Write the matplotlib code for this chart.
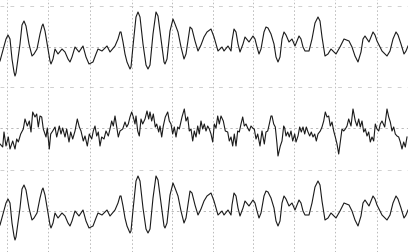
import numpy as np
import matplotlib
matplotlib.use('Agg')
import matplotlib.pyplot as plt

# 上下两道波形 (幅值, 向上为正)
t_slow = [0, 6, 8, 10, 12, 14, 15, 16, 20, 22, 24, 26, 29, 32, 34, 37, 40, 42, 43, 45,
          48, 50, 51, 53, 55, 58, 62, 65, 68, 70, 72, 75, 79, 83, 86, 89, 93, 96, 98, 102,
          107, 110, 115, 118, 120, 121, 123, 125, 127, 130, 131, 133, 136, 138, 140, 143, 146, 148, 150, 153,
          156, 158, 161, 164, 165, 167, 170, 173, 175, 178, 181, 184, 186, 190, 192, 195, 198, 201, 204, 207,
          211, 214, 218, 222, 224, 228, 231, 232, 234, 236, 238, 240, 243, 245, 249, 253, 255, 257, 259, 261,
          264, 266, 268, 271, 274, 276, 278, 280, 282, 284, 286, 289, 292, 295, 297, 299, 301, 303, 305, 309,
          312, 315, 318, 320, 322, 325, 328, 331, 336, 340, 344, 349, 352, 355, 358, 361, 363, 365, 369, 371,
          373, 375, 377, 382, 387, 390, 393, 396, 398, 401, 404, 406, 408]
v_slow = [-14, 8, 12, 8, -12, -25, -29, -26, 3, 22, 26, 21, 3, -9, -7, -2, 13, 21, 23, 16,
          -2, -14, -17, -12, -2, -7, -2, -5, -12, -15, -10, 0, -5, 1, -10, -17, -15, -7, -2, -4,
          1, -5, 1, 8, 15, 15, 5, -7, -15, -22, -20, 1, 30, 35, 30, 3, -18, -22, -18, 13,
          35, 31, 8, -15, -17, -12, 16, 28, 23, 15, 0, -12, -7, 20, 18, 6, -4, 2, 10, 15,
          18, 10, -4, 0, -4, 1, -4, 6, 18, 15, 3, -5, 3, 10, 5, 11, 8, 0, -7, -2,
          15, 20, 19, 13, 3, -10, -15, -10, 8, 15, 12, 5, 8, 1, 6, 11, 8, 0, -4, -4,
          8, 24, 30, 26, 10, -9, -7, -2, -7, 0, 8, 6, 0, -9, -15, -5, 8, 11, 5, 10,
          15, 12, 6, -4, -9, -4, 8, 15, 12, 3, -7, -4, 1]

# 中间一道快波
t_fast = [0, 2.7, 4, 6, 8.3, 10, 12.7, 15, 16.7, 18.3, 20.7, 23.3, 25, 27.3, 29.3, 31, 32.7, 35, 36.7, 38.3,
          40, 41.7, 43.3, 46, 47.3, 49.3, 50.7, 52.7, 55, 56.7, 59.3, 61, 62.7, 65, 66.7, 69, 70.7, 72.7, 75, 77.3,
          79.3, 81, 83.3, 85, 87.3, 89.3, 91.7, 93.3, 95, 96.7, 98.3, 100, 101.7, 104, 106, 108.3, 110, 111.7, 113.3, 115,
          116.7, 118.3, 120, 122.7, 125, 126.7, 128.3, 130, 131.7, 133.3, 135,
          136, 137.7, 139.3, 141, 142.7, 145, 147, 148.7, 150, 151.7, 153.3, 155.3, 156.7, 158.7, 160, 161.7, 163.3, 165.3, 167.7, 169.3,
          171, 172.7, 174.3, 176, 177.7, 179.3, 182, 184.3, 186, 187.7, 189.3, 191, 192.7, 194.3, 196, 197.7, 199.3, 201, 202.7, 204.3,
          206, 207.7, 209.3, 211, 212.7, 214.3, 216, 217.7, 219.3, 221, 223.3, 225.3, 227.7, 229.3, 231, 232.7, 234.3, 236, 237.7, 239.3,
          241, 242.7, 244.3, 246, 247.7, 249.3, 251, 252.7, 254.3, 256, 257.7, 260, 262, 264.3, 266, 267.7, 269.3, 271,
          272, 273.7, 275.3, 277, 278, 280.3, 282, 283.7, 284.7, 286, 287.7, 289.3, 291, 292.7, 294.7, 296, 298, 299.7, 301.3, 303,
          304.7, 306.3, 308, 309.7, 311.3, 313, 314.7, 316.3, 318, 320.3, 322, 323.7, 325.3, 327, 328.7, 330.3, 332, 333.7, 335.3, 337,
          338.7, 340.3, 342, 343.7, 345.3, 347, 348.7, 351, 353, 355.3, 357, 358.7, 360.3, 362, 363.7, 365.3, 367, 368.7, 370.3, 372,
          373.7, 375.3, 377, 378.7, 380.3, 382, 384.7, 387, 388.7, 390.3, 392, 393.7, 395.3, 397, 398.7, 400.3, 402, 403.7, 405.3, 407]
v_fast = [-16, -19, -4, -18, -9, -21, -13, -21, -11, -14, -6, -1, 9, 2, 7, -4, 16, 11, 14, 1,
          12, 11, -1, -9, 0, -21, -6, -3, 1, -9, 2, -6, 0, -9, -1, -14, -4, -11, -3, 9,
          1, -3, -13, -8, -18, -6, -11, -3, 2, -8, -4, -18, -9, -11, -3, -8, -1, 7, 2, 12,
          1, -9, -3, -1, 6, 1, 4, 11, 16, 11, 4,
          12, -3, -8, 9, 4, 9, 17, 9, 16, 7, 14, 1, 4, -4, 2, -9, 2, 11, 16, 7,
          4, -6, 1, -9, 1, -1, 11, 19, 7, 11, -3, -1, -13, -3, -9, 2, -6, 7, -1, 4,
          -3, 2, -1, -6, -14, 4, 0, 12, 4, 12, 7, -3, -4, -13, -9, -18, -6, -18, -3, -4,
          4, 11, 2, 4, 0, -3, 2, 0, -1, -11, -6, -18, -3, -16, -4, -3, 4, 12,
          12, 4, 1, -16, -28, -18, -13, 2, 0, -8, -4, -9, -3, -13, -6, -14, -8, 1, -4, 1,
          -6, 1, -4, -8, -4, -9, -6, -13, -6, -3, 1, 7, 16, 11, 12, 2, 6, -3, -9, -16,
          -26, -14, -1, -3, -1, 2, 9, 2, 19, 7, 2, 9, 1, 7, -4, -1, -8, -4, -14, -9,
          -13, 4, -1, -3, 4, 7, 1, 19, 11, 6, -3, 1, -6, -8, -9, -14, -21, -14, -19, -9]

# 秒线位置
second_marks = [7, 48, 90, 132, 172, 213, 253, 294, 335, 377]

fig = plt.figure(figsize=(4.08, 2.53), dpi=100)
ax = fig.add_axes([0, 0, 1, 1])
ax.set_xlim(0, 408)
ax.set_ylim(253, 0)
ax.axis('off')

for x in second_marks:
    ax.axvline(x, color='#a8a8a8', lw=0.55, dashes=(2, 3))

centers = [48, 129, 212]
for c in centers:
    ax.axhline(c, color='#a8a8a8', lw=0.55, dashes=(3, 4))
    ax.axhline(c - 41, color='#c4c4c4', lw=0.55, dashes=(5, 8))

traces = [(t_slow, v_slow), (t_fast, v_fast), (t_slow, v_slow)]
for c, (t, v) in zip(centers, traces):
    ax.plot(t, c - np.array(v), color='#1a1a1a', lw=0.8, solid_joinstyle='round')

fig.savefig('out.png', dpi=100, facecolor='white')
